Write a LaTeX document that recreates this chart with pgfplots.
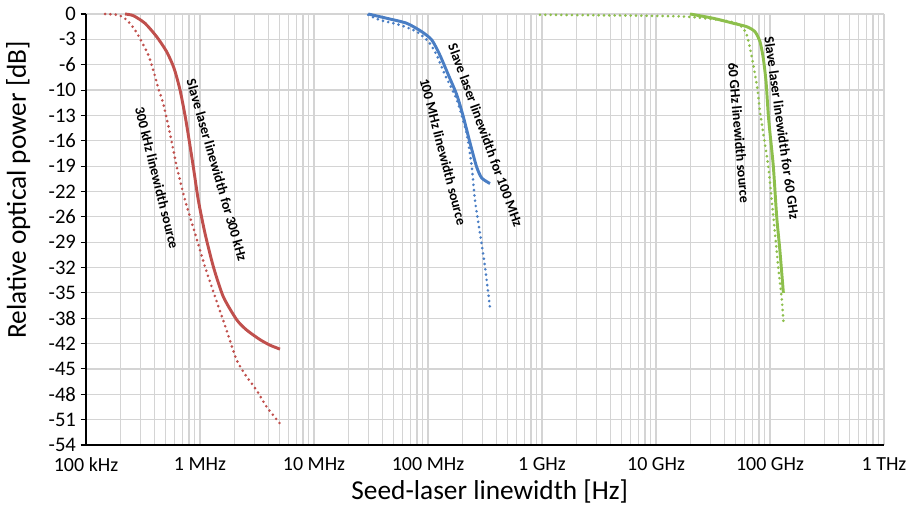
\documentclass[border=0pt]{standalone}
\usepackage{pgfplots}
\pgfplotsset{compat=1.18}
\usepackage{fontspec}
\setmainfont{Carlito}
\definecolor{cred}{HTML}{C0504D}
\definecolor{cblue}{HTML}{4A7EC4}
\definecolor{cgreen}{HTML}{8DBF4C}
\definecolor{gridgray}{HTML}{D4D4D4}
\begin{document}
\begin{tikzpicture}
\useasboundingbox (-64.5pt,-51pt) rectangle (626.25pt,333.75pt);
\begin{axis}[
  at={(0,0)}, anchor=south west, scale only axis,
  width=598.5pt, height=323.25pt,
  xmode=log, xmin=1e5, xmax=1e12, ymin=-54.4, ymax=0,
  axis x line*=bottom, axis y line*=left,
  axis line style={-, black, line width=1.1pt},
  clip=false,
  xtick={1e5,1e6,1e7,1e8,1e9,1e10,1e11,1e12},
  xticklabels={100 kHz,1 MHz,10 MHz,100 MHz,1 GHz,10 GHz,100 GHz,1 THz},
  minor xtick={2e5,3e5,4e5,5e5,6e5,7e5,8e5,9e5,
    2e6,3e6,4e6,5e6,6e6,7e6,8e6,9e6,
    2e7,3e7,4e7,5e7,6e7,7e7,8e7,9e7,
    2e8,3e8,4e8,5e8,6e8,7e8,8e8,9e8,
    2e9,3e9,4e9,5e9,6e9,7e9,8e9,9e9,
    2e10,3e10,4e10,5e10,6e10,7e10,8e10,9e10,
    2e11,3e11,4e11,5e11,6e11,7e11,8e11,9e11},
  ytick={-54.4,-51.2,-48,-44.8,-41.6,-38.4,-35.2,-32,-28.8,-25.6,-22.4,-19.2,-16,-12.8,-9.6,-6.4,-3.2,0},
  yticklabels={-54,-51,-48,-45,-42,-38,-35,-32,-29,-26,-22,-19,-16,-13,-10,-6,-3,0},
  xmajorgrids, xminorgrids, ymajorgrids,
  major grid style={gridgray, line width=0.9pt},
  minor grid style={gridgray, line width=0.9pt},
  x tick style={draw=none}, minor x tick style={draw=none},
  y tick style={black, line width=0.8pt},
  tick align=outside, major tick length=4pt,
  ticklabel style={font=\fontsize{15}{18}\selectfont},
  yticklabel style={font=\fontsize{15.5}{18}\selectfont},
  xticklabel style={yshift=-2pt},
  xlabel={Seed-laser linewidth [Hz]},
  ylabel={Relative optical power [dB]},
  label style={font=\fontsize{20.5}{25}\selectfont},
  xlabel style={at={(axis description cs:0.506,-0.109)}, anchor=center},
  ylabel style={at={(axis description cs:-0.085,0.592)}, anchor=center},
]
% red solid: slave laser 300 kHz
\addplot[cred, line width=2.2pt, smooth, tension=0.4] coordinates {
(2.20e5,0) (2.60e5,-0.21) (3.29e5,-1.17) (4.17e5,-2.87) (5.10e5,-4.76)
(5.91e5,-6.82) (6.68e5,-9.59) (7.54e5,-13.5) (8.73e5,-19.27)
(9.66e5,-23.48) (1.106e6,-27.68) (1.31e6,-31.9) (1.60e6,-35.68) (2.10e6,-38.6)
(2.57e6,-39.9) (3.36e6,-41.1) (4.11e6,-41.8) (5.03e6,-42.3)};
% red dotted: 300 kHz source
\addplot[cred, line width=2.2pt, line cap=round, dash pattern=on 0pt off 4pt, smooth, tension=0.4] coordinates {
(1.47e5,0) (1.92e5,-0.13) (2.28e5,-0.76) (2.69e5,-2.02) (3.08e5,-3.50)
(3.52e5,-5.17) (3.89e5,-7.07) (4.31e5,-9.38) (4.76e5,-11.3) (5.45e5,-15.06)
(6.25e5,-19.27) (7.39e5,-23.48) (9.04e5,-27.68) (1.106e6,-31.9) (1.355e6,-35.68)
(1.71e6,-39.9) (2.10e6,-43.7) (2.57e6,-45.8) (3.14e6,-47.5) (3.85e6,-49.6) (5.03e6,-51.7)};
% blue solid
\addplot[cblue, line width=2.2pt, smooth, tension=0.4] coordinates {
(2.99e7,0) (4.34e7,-0.54) (6.50e7,-1.17) (8.81e7,-2.23) (1.08e8,-3.28)
(1.27e8,-5.17) (1.51e8,-7.70) (1.79e8,-10.22) (2.04e8,-12.96) (2.34e8,-16.3)
(2.67e8,-19.3) (2.96e8,-20.7) (3.50e8,-21.4)};
% blue dotted
\addplot[cblue, line width=2.2pt, line cap=round, dash pattern=on 0pt off 4pt, smooth, tension=0.4] coordinates {
(2.99e7,-0.1) (3.79e7,-0.76) (5.68e7,-1.39) (7.96e7,-2.23) (1.01e8,-3.50)
(1.19e8,-5.17) (1.41e8,-7.70) (1.79e8,-10.85) (2.18e8,-15.06) (2.42e8,-19.27)
(2.58e8,-23.5) (2.86e8,-27.7) (3.16e8,-31.9) (3.50e8,-37.1)};
% green solid
\addplot[cgreen, line width=2.2pt, smooth, tension=0.4] coordinates {
(1.99e10,0) (3.18e10,-0.54) (4.76e10,-1.17) (6.25e10,-1.6) (7.38e10,-2.23)
(8.17e10,-3.5) (8.73e10,-5.59) (9.23e10,-8.54) (9.66e10,-12.75) (1.0e11,-15.06)
(1.07e11,-19.27) (1.145e11,-25.6) (1.22e11,-29.8) (1.31e11,-35.2)};
% green dotted
\addplot[cgreen, line width=2.2pt, line cap=round, dash pattern=on 0pt off 4pt, smooth, tension=0.4] coordinates {
(9.6e8,-0.1) (1.62e10,-0.3) (4.46e10,-0.97) (5.65e10,-1.6) (6.25e10,-2.65)
(6.68e10,-4.33) (7.14e10,-6.44) (7.74e10,-9.38) (8.17e10,-12.33) (8.73e10,-15.06)
(9.66e10,-19.27) (1.035e11,-23.5) (1.106e11,-27.7) (1.18e11,-31.9) (1.27e11,-36.1) (1.31e11,-38.8)};
% annotations
\node[rotate=-74, font=\fontsize{10.5}{12}\bfseries] at (axis cs:1.41e6,-19.7) {Slave laser linewidth for 300 kHz};
\node[rotate=-76, font=\fontsize{10.5}{12}\bfseries] at (axis cs:4.2e5,-20.7) {300 kHz linewidth source};
\node[rotate=-70, font=\fontsize{10.5}{12}\bfseries] at (axis cs:3.2e8,-15.3) {Slave laser linewidth for 100 MHz};
\node[rotate=-75.5, font=\fontsize{10.5}{12}\bfseries] at (axis cs:1.36e8,-17.4) {100 MHz linewidth source};
\node[rotate=-82, font=\fontsize{10.5}{12}\bfseries] at (axis cs:1.27e11,-14.4) {Slave laser linewidth for 60 GHz};
\node[rotate=-85, font=\fontsize{10.5}{12}\bfseries] at (axis cs:5.35e10,-15.0) {60 GHz linewidth source};
\end{axis}
\end{tikzpicture}
\end{document}
